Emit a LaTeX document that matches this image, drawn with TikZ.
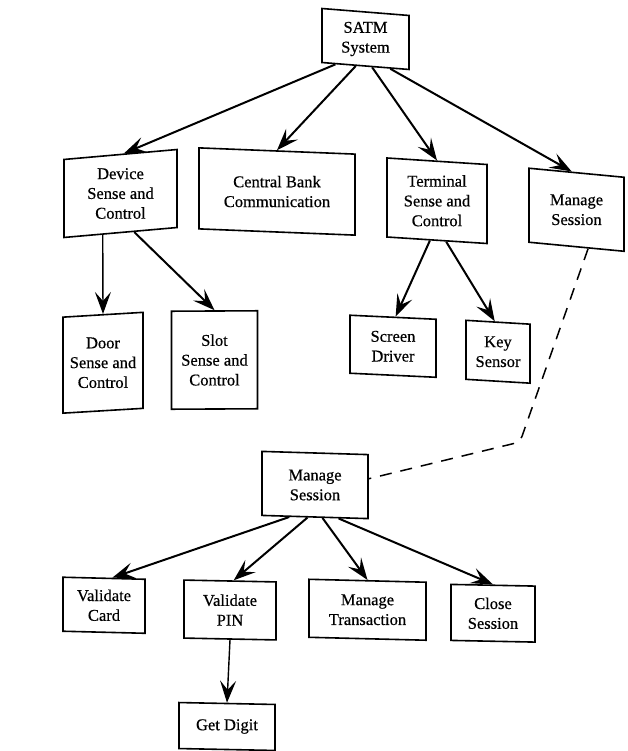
\documentclass[tikz,border=0pt]{standalone}
\usepackage{fontspec}
\usetikzlibrary{arrows.meta,calc}
\newfontfamily\boxfont{Liberation Serif}[FakeBold=0.5]
\begin{document}
\begin{tikzpicture}[x=1pt,y=-1pt,
  frame/.style={draw=black, line width=1.6pt, inner sep=0pt},
  caption/.style={align=center, inner sep=0pt, text=black,
    font=\boxfont\fontsize{16.5}{19.8}\selectfont},
  link/.style={draw=black, line width=2pt,
    -{Stealth[length=22pt,width=16pt,inset=9pt]}},
  thinlink/.style={link, line width=1.4pt},
  dashlink/.style={draw=black, line width=1.5pt, dash pattern=on 12pt off 9pt,
    rounded corners=6pt}
]
\useasboundingbox[fill=white] (0,0) rectangle (627,751);

% frames (slightly skewed boxes)
\node[frame, minimum width=87pt,  minimum height=54pt, yslant=-0.08]  (satm)  at (365.5,39) {};
\node[frame, minimum width=113pt, minimum height=78pt, yslant=0.088]  (dev)   at (120.5,193.5) {};
\node[frame, minimum width=156pt, minimum height=81pt, yslant=-0.04]  (cbc)   at (277,191.5) {};
\node[frame, minimum width=100pt, minimum height=79pt, yslant=-0.065] (tsc)   at (437,200.75) {};
\node[frame, minimum width=95pt,  minimum height=74pt, yslant=-0.095] (ms1)   at (576.5,209.75) {};
\node[frame, minimum width=80pt,  minimum height=96pt, yslant=0.06]   (door)  at (103,362.75) {};
\node[frame, minimum width=86pt,  minimum height=98pt, yslant=0.005]  (slot)  at (214.5,360) {};
\node[frame, minimum width=86pt,  minimum height=58pt, yslant=-0.047] (scr)   at (393,346.25) {};
\node[frame, minimum width=64pt,  minimum height=59pt, yslant=-0.06]  (key)   at (498,351.75) {};
\node[frame, minimum width=106pt, minimum height=64pt, yslant=-0.03]  (ms2)   at (315,485) {};
\node[frame, minimum width=82pt,  minimum height=54pt, yslant=-0.025] (card)  at (104,605.25) {};
\node[frame, minimum width=92pt,  minimum height=58pt, yslant=-0.02]  (pin)   at (230,610) {};
\node[frame, minimum width=117pt, minimum height=58pt, yslant=-0.025] (mt)    at (367.5,609.75) {};
\node[frame, minimum width=84pt,  minimum height=56pt, yslant=-0.02]  (close) at (493,613.25) {};
\node[frame, minimum width=96pt,  minimum height=46pt, yslant=-0.02]  (dig)   at (227,726.5) {};

% box texts
\node[caption] (satm-t)  at (satm)  {SATM\\System};
\node[caption] (dev-t)   at (dev)   {Device\\Sense and\\Control};
\node[caption] (cbc-t)   at (cbc)   {Central Bank\\Communication};
\node[caption] (tsc-t)   at (tsc)   {Terminal\\Sense and\\Control};
\node[caption] (ms1-t)   at (ms1)   {Manage\\Session};
\node[caption] (door-t)  at (door)  {Door\\Sense and\\Control};
\node[caption] (slot-t)  at (slot)  {Slot\\Sense and\\Control};
\node[caption] (scr-t)   at (scr)   {Screen\\Driver};
\node[caption] (key-t)   at (key)   {Key\\Sensor};
\node[caption] (ms2-t)   at (ms2)   {Manage\\Session};
\node[caption] (card-t)  at (card)  {Validate\\Card};
\node[caption] (pin-t)   at (pin)   {Validate\\PIN};
\node[caption] (mt-t)    at (mt)    {Manage\\Transaction};
\node[caption] (close-t) at (close) {Close\\Session};
\node[caption] (dig-t)   at (dig)   {Get Digit};

% connectors from the system node
\draw[link] ($(satm.south west)!0.16!(satm.south east)$) -- ($(dev.north west)!0.53!(dev.north east)$);
\draw[link] ($(satm.south west)!0.39!(satm.south east)$) -- (cbc.north);
\draw[link] ($(satm.south west)!0.575!(satm.south east)$) -- (tsc.north);
\draw[link] ($(satm.south west)!0.78!(satm.south east)$) -- ($(ms1.north west)!0.45!(ms1.north east)$);

% device and terminal children
\draw[thinlink] ($(dev.south west)!0.345!(dev.south east)$) -- (door.north);
\draw[link] ($(dev.south west)!0.62!(dev.south east)$) -- (slot.north);
\draw[link] ($(tsc.south west)!0.43!(tsc.south east)$) -- ($(scr.north west)!0.53!(scr.north east)$);
\draw[link] ($(tsc.south west)!0.59!(tsc.south east)$) -- ($(key.north west)!0.45!(key.north east)$);

% link between the two session nodes
\coordinate (bend) at (520,442);
\draw[dashlink] ($(ms1.south west)!0.62!(ms1.south east)$) -- (bend) -- ($(ms2.north east)!0.38!(ms2.south east)$);

% session children
\draw[link] ($(ms2.south west)!0.26!(ms2.south east)$) -- ($(card.north west)!0.6!(card.north east)$);
\draw[link] ($(ms2.south west)!0.43!(ms2.south east)$) -- ($(pin.north west)!0.54!(pin.north east)$);
\draw[link] ($(ms2.south west)!0.57!(ms2.south east)$) -- (mt.north);
\draw[link] ($(ms2.south west)!0.72!(ms2.south east)$) -- (close.north);
\draw[thinlink] (pin.south) -- (dig.north);
\end{tikzpicture}
\end{document}
